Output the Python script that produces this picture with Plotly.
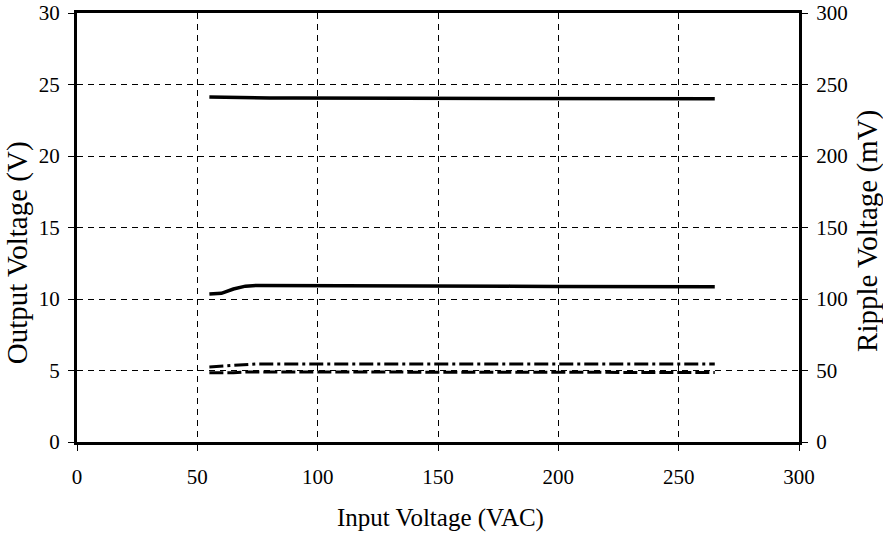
import plotly.graph_objects as go

vin = [55, 60, 65, 70, 75, 80, 90, 100, 115, 132, 150, 180, 200, 230, 265]
v24 = [24.12, 24.1, 24.08, 24.07, 24.06, 24.06, 24.05, 24.05, 24.04, 24.03, 24.02, 24.02, 24.01, 24.0, 24.0]
v11 = [10.35, 10.4, 10.7, 10.9, 10.95, 10.95, 10.95, 10.95, 10.93, 10.92, 10.9, 10.9, 10.88, 10.87, 10.85]
v5 = [4.85, 4.83, 4.85, 4.9, 4.9, 4.9, 4.9, 4.9, 4.88, 4.88, 4.88, 4.87, 4.87, 4.86, 4.86]
ripple = [52.5, 53.0, 53.8, 54.5, 54.6, 54.6, 54.6, 54.5, 54.5, 54.5, 54.6, 54.5, 54.5, 54.5, 54.5]

x_ticks = [0, 50, 100, 150, 200, 250, 300]
y_ticks = [0, 5, 10, 15, 20, 25, 30]
y2_ticks = [0, 50, 100, 150, 200, 250, 300]

FAM = "Liberation Serif"
tick_font = dict(family=FAM, size=21, color="black")
xtitle_font = dict(family=FAM, size=25, color="black")
ytitle_font = dict(family=FAM, size=29, color="black")

fig = go.Figure()
fig.add_trace(go.Scatter(x=vin, y=v24, mode="lines", line=dict(color="black", width=3.5), name="24 V"))
fig.add_trace(go.Scatter(x=vin, y=v11, mode="lines", line=dict(color="black", width=3.5), name="11 V"))
fig.add_trace(go.Scatter(x=vin, y=v5, mode="lines", line=dict(color="black", width=3, dash="14px,4px"), name="5 V"))
fig.add_trace(go.Scatter(x=vin, y=ripple, mode="lines", yaxis="y2",
                         line=dict(color="black", width=3, dash="14px,4px,3px,4px"), name="Ripple"))

axis_common = dict(showline=True, linecolor="black", linewidth=3, ticks="outside", ticklen=6,
                   tickcolor="black", tickwidth=1, zeroline=False, tickfont=tick_font,
                   automargin=False)

fig.update_layout(
    width=883, height=533,
    margin=dict(l=77, r=84, t=13, b=91),
    paper_bgcolor="white", plot_bgcolor="white",
    showlegend=False,
    font=tick_font,
    xaxis=dict(range=[0, 300], tickvals=x_ticks, showgrid=True, gridcolor="black", gridwidth=1,
               griddash="6px,5px", mirror=True, ticklabelstandoff=8, **axis_common),
    yaxis=dict(range=[0, 30], tickvals=y_ticks, showgrid=True, gridcolor="black", gridwidth=1,
               griddash="6px,5px", ticklabelstandoff=4, **axis_common),
    yaxis2=dict(range=[0, 300], tickvals=y2_ticks, overlaying="y", side="right", showgrid=False,
                ticklabelstandoff=4, **axis_common),
    annotations=[
        dict(text="Input Voltage (VAC)", xref="paper", yref="paper", x=0.503, y=-0.177,
             showarrow=False, font=xtitle_font, xanchor="center", yanchor="middle"),
        dict(text="Output Voltage (V)", xref="paper", yref="paper", x=-0.083, y=0.44,
             showarrow=False, font=ytitle_font, textangle=-90, xanchor="center", yanchor="middle"),
        dict(text="Ripple Voltage (mV)", xref="paper", yref="paper", x=1.0956, y=0.492,
             showarrow=False, font=ytitle_font, textangle=-90, xanchor="center", yanchor="middle"),
    ],
)

fig.write_html("out.html")
